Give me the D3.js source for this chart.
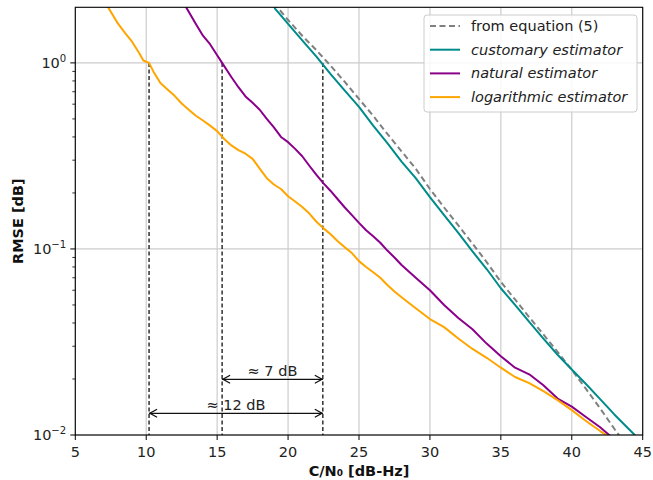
<!DOCTYPE html>
<html><head><meta charset="utf-8">
<script src="https://cdn.jsdelivr.net/npm/d3@7"></script>
<style>
body{margin:0;background:#fff;}
text{font-family:"DejaVu Sans",sans-serif;}
</style></head>
<body><svg id="c" width="653" height="480"></svg>
<script>
// ---- data ----
const xTicks = [5,10,15,20,25,30,35,40,45];
const yTicks = [0.01, 0.1, 1];
const yTickExp = ["\u22122", "\u22121", "0"];

const eqX = [19,20,21,22,23,24,25,26,27,28,29,30,31,32,33,34,35,36,37,38,39,40,41,42,43,44];
const eqY = [2.1,1.70,1.40,1.17,0.965,0.79,0.64,0.52,0.415,0.335,0.27,0.21,0.167,0.134,0.107,0.085,0.0665,0.0535,0.043,0.0347,0.028,0.0224,0.0177,0.0139,0.0108,0.0085];

const custX = [18.9,19.08,20,21,22,22.5,23,24,25,26,27,28,29,30,31,32,33,34,35,36,37,38,39,40,41,42,43,44,44.5,45];
const custY = [2.1,1.96,1.62,1.32,1.08,0.97,0.87,0.71,0.58,0.46,0.37,0.295,0.24,0.19,0.152,0.122,0.097,0.078,0.0615,0.05,0.0405,0.033,0.027,0.0225,0.0188,0.0156,0.0129,0.0108,0.0099,0.0092];

const natX = [12.8,13.5,14,14.5,15,15.35,16,16.5,17,17.5,18,18.5,19,19.5,20,20.5,21,21.5,22,22.5,23,23.5,24,24.5,25,25.5,26,26.5,27,27.5,28,29,30,31,32,33,34,35,36,37,38,39,40,41,42,42.7,43];
const natY = [2.0,1.62,1.40,1.26,1.10,1.0,0.84,0.74,0.66,0.61,0.56,0.50,0.45,0.40,0.375,0.345,0.315,0.28,0.25,0.225,0.205,0.185,0.167,0.152,0.138,0.126,0.117,0.108,0.098,0.09,0.082,0.07,0.06,0.05,0.0425,0.037,0.031,0.0265,0.023,0.0212,0.0185,0.0157,0.0142,0.0125,0.011,0.0099,0.0095];

const logX = [7.2,7.3,8,8.5,9,9.5,9.8,10.2,10.5,11,11.5,12,12.5,13,13.5,14,14.5,15,15.5,16,16.5,17,17.5,18,18.5,19,19.5,20,20.5,21,21.5,22,22.5,23,23.5,24,24.5,25,25.5,26,26.5,27,27.5,28,29,30,31,32,33,34,35,36,37,38,39,40,41,42,42.5,43];
const logY = [2.1,2.0,1.63,1.45,1.30,1.13,1.03,1.0,0.90,0.78,0.72,0.665,0.605,0.56,0.52,0.49,0.46,0.43,0.39,0.36,0.34,0.325,0.305,0.27,0.24,0.222,0.21,0.192,0.18,0.168,0.155,0.14,0.129,0.12,0.11,0.102,0.095,0.086,0.08,0.075,0.07,0.064,0.059,0.055,0.048,0.042,0.038,0.033,0.029,0.026,0.023,0.0205,0.019,0.0172,0.0154,0.0136,0.0119,0.0105,0.0099,0.0093];

const markX = [10.2, 15.35, 22.45];
const spans = [{from:15.35,to:22.45,label:"\u2248 7 dB"},{from:10.2,to:22.45,label:"\u2248 12 dB"}];

const series = [
  {name:"from equation (5)", xs:eqX, ys:eqY, color:"#808080", dash:"6,3.5", italic:false},
  {name:"customary estimator", xs:custX, ys:custY, color:"#008B8B", dash:null, italic:true},
  {name:"natural estimator", xs:natX, ys:natY, color:"#8B008B", dash:null, italic:true},
  {name:"logarithmic estimator", xs:logX, ys:logY, color:"#FFA500", dash:null, italic:true}
];

// ---- layout ----
const L=75.3, R=642.7, T=7.3, B=435;
const x = d3.scaleLinear().domain([5,45]).range([L,R]);
const y = d3.scaleLog().domain([0.01,1.99]).range([B,T]);
const svg = d3.select("#c");
const FS = 14.5;

svg.append("defs").append("clipPath").attr("id","clip")
  .append("rect").attr("x",L).attr("y",T).attr("width",R-L).attr("height",B-T);

// grid
const g = svg.append("g");
g.selectAll(".vg").data(xTicks).join("line")
  .attr("x1",d=>x(d)).attr("x2",d=>x(d)).attr("y1",T).attr("y2",B)
  .attr("stroke","#cccccc").attr("stroke-width",1.2);
g.selectAll(".hg").data(yTicks).join("line")
  .attr("x1",L).attr("x2",R).attr("y1",d=>y(d)).attr("y2",d=>y(d))
  .attr("stroke","#cccccc").attr("stroke-width",1.2);

// vertical dashed markers
g.selectAll(".mk").data(markX).join("line")
  .attr("x1",d=>x(d)).attr("x2",d=>x(d)).attr("y1",y(1)).attr("y2",B)
  .attr("stroke","#222").attr("stroke-width",1.4).attr("stroke-dasharray","4,2.5");

// curves
const line = d3.line().x(d=>x(d[0])).y(d=>y(d[1]));
const cg = svg.append("g").attr("clip-path","url(#clip)");
series.forEach(s=>{
  cg.append("path").datum(s.xs.map((v,i)=>[v,s.ys[i]]))
    .attr("d",line).attr("fill","none").attr("stroke",s.color)
    .attr("stroke-width",2).attr("stroke-dasharray",s.dash)
    .attr("stroke-linejoin","round");
});

// arrows
const ay = [379.3, 413.3];
spans.forEach((s,i)=>{
  const x1=x(s.from), x2=x(s.to), yy=ay[i];
  const ag = svg.append("g").attr("stroke","#111").attr("stroke-width",1.3).attr("fill","none");
  ag.append("line").attr("x1",x1).attr("x2",x2).attr("y1",yy).attr("y2",yy);
  ag.append("path").attr("d",`M${x1+8},${yy-4}L${x1+0.8},${yy}L${x1+8},${yy+4}`);
  ag.append("path").attr("d",`M${x2-8},${yy-4}L${x2-0.8},${yy}L${x2-8},${yy+4}`);
  svg.append("text").attr("x",(x1+x2)/2).attr("y",yy-3.5).attr("text-anchor","middle")
    .attr("font-size",FS).attr("fill","#222").text(s.label);
});

// frame
svg.append("rect").attr("x",L).attr("y",T).attr("width",R-L).attr("height",B-T)
  .attr("fill","none").attr("stroke","#000").attr("stroke-width",1.1);

// x axis ticks
const xa = svg.append("g");
xTicks.forEach(t=>{
  xa.append("line").attr("x1",x(t)).attr("x2",x(t)).attr("y1",B).attr("y2",B+5).attr("stroke","#000").attr("stroke-width",1);
  xa.append("text").attr("x",x(t)).attr("y",B+21.5).attr("text-anchor","middle").attr("font-size",FS).attr("fill","#222").text(t);
});
// y axis ticks
const ya = svg.append("g");
yTicks.forEach((t,i)=>{
  ya.append("line").attr("x1",L-5).attr("x2",L).attr("y1",y(t)).attr("y2",y(t)).attr("stroke","#000").attr("stroke-width",1);
  const tx = ya.append("text").attr("x",L-9).attr("y",y(t)+5).attr("text-anchor","end").attr("font-size",FS).attr("fill","#222");
  tx.append("tspan").text("10");
  tx.append("tspan").attr("dy",-6).attr("font-size",FS*0.7).text(yTickExp[i]);
});
const minors = [];
[0.01,0.1,1].forEach(b=>{for(let k=2;k<=9;k++){const v=b*k; if(v<=1.99) minors.push(v);}});
ya.selectAll(".mn").data(minors).join("line")
  .attr("x1",L-3).attr("x2",L).attr("y1",d=>y(d)).attr("y2",d=>y(d)).attr("stroke","#000").attr("stroke-width",0.8);

// axis labels
svg.append("text").attr("x",(L+R)/2).attr("y",476).attr("text-anchor","middle")
  .attr("font-size",FS).attr("font-weight","bold").attr("fill","#111").text("C/N\u2080 [dB-Hz]");
svg.append("text").attr("transform",`translate(23,${(T+B)/2}) rotate(-90)`).attr("text-anchor","middle")
  .attr("font-size",FS).attr("font-weight","bold").attr("fill","#111").text("RMSE [dB]");

// legend
const lg = svg.append("g");
lg.append("rect").attr("x",424).attr("y",15).attr("width",213).attr("height",97).attr("rx",3)
  .attr("fill","#fff").attr("fill-opacity",0.85).attr("stroke","#cccccc").attr("stroke-width",1);
series.forEach((s,i)=>{
  const yy = 26 + i*23.7;
  lg.append("line").attr("x1",430).attr("x2",460).attr("y1",yy).attr("y2",yy)
    .attr("stroke",s.color).attr("stroke-width",2).attr("stroke-dasharray",s.dash);
  lg.append("text").attr("x",471).attr("y",yy+5).attr("font-size",FS)
    .attr("font-style",s.italic?"italic":"normal").attr("fill","#222").text(s.name);
});
</script></body></html>
